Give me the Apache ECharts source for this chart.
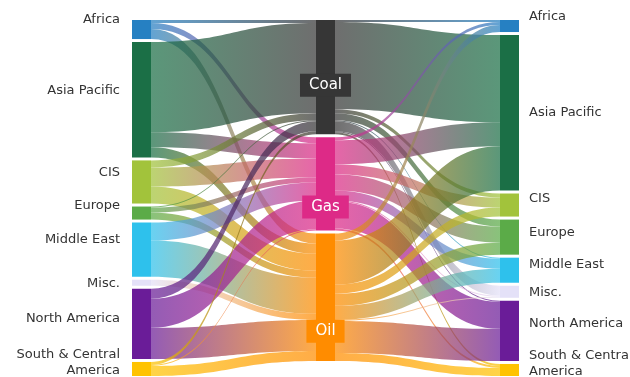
<!DOCTYPE html>
<html>
<head>
<meta charset="utf-8">
<script src="https://cdn.jsdelivr.net/npm/echarts@6/dist/echarts.min.js"></script>
<style>
html,body{margin:0;padding:0;background:#fff;}
#chart{width:630px;height:377px;}
</style>
</head>
<body>
<div id="chart"></div>
<script>
// Regions (exporters on the left, importers on the right)
const regions = ['Africa', 'Asia Pacific', 'CIS', 'Europe', 'Middle East', 'Misc.', 'North America', 'South & Central America'];
const fuels = ['Coal', 'Gas', 'Oil'];

// Exports: region -> fuel
const exportsCoal = [3, 90, 7, 1, 0, 0, 10, 3];
const exportsGas  = [6, 15, 19, 5, 18, 0, 29, 1];
const exportsOil  = [10, 10, 17, 7, 36, 6, 31, 10];

// Imports: fuel -> region
const importsCoal = [2, 87, 4, 7, 1, 10, 1, 2];
const importsGas  = [3, 24, 10, 16, 10, 1, 27, 2];
const importsOil  = [7, 44, 9, 12, 14, 1, 32, 8];

// Styling (kept separate from data)
const regionColors = ['#2680c2', '#1b6f46', '#a2c33b', '#5bab48', '#2ec1ec', '#e4e1f8', '#6a1c98', '#ffc300'];
const fuelColors = { Coal: '#363636', Gas: '#dd2a87', Oil: '#ff8c00' };
const fuelLabelShift = { Coal: 8, Gas: 23, Oil: 34 };
const leftLabelShift = [-10, -9, -9, -7, -10, 1, -5, -6];
const rightLabelShift = [-9, 0, -6, -4, -6, 1, -7, -6];

const FONT = 'DejaVu Sans';
const display = n => n === 'South & Central America' ? 'South & Central\nAmerica' : n;

const nodes = [];
regions.forEach((r, i) => nodes.push({
  name: 'L:' + r,
  itemStyle: { color: regionColors[i] },
  label: { position: 'left', distance: 12, offset: [0, leftLabelShift[i]], align: 'right' }
}));
fuels.forEach(f => nodes.push({
  name: 'M:' + f,
  itemStyle: { color: fuelColors[f] },
  label: {
    position: 'inside', color: '#fff', fontSize: 15, backgroundColor: fuelColors[f],
    padding: [4, 9, 3, 9], offset: [0, fuelLabelShift[f]], align: 'center'
  }
}));
regions.forEach((r, i) => nodes.push({
  name: 'R:' + r,
  itemStyle: { color: regionColors[i] },
  label: { position: 'right', distance: 10, offset: [0, rightLabelShift[i]], align: 'left' }
}));

const links = [];
const exp = { Coal: exportsCoal, Gas: exportsGas, Oil: exportsOil };
const imp = { Coal: importsCoal, Gas: importsGas, Oil: importsOil };
regions.forEach((r, i) => fuels.forEach(f => {
  if (exp[f][i] > 0) links.push({ source: 'L:' + r, target: 'M:' + f, value: exp[f][i] });
}));
fuels.forEach(f => regions.forEach((r, i) => {
  if (imp[f][i] > 0) links.push({ source: 'M:' + f, target: 'R:' + r, value: imp[f][i] });
}));

const chart = echarts.init(document.getElementById('chart'), null, { renderer: 'canvas' });
chart.setOption({
  backgroundColor: '#fff',
  animation: false,
  series: [{
    type: 'sankey',
    left: 132, right: 111, top: 20, bottom: 1,
    nodeWidth: 19,
    nodeGap: 3,
    layoutIterations: 0,
    draggable: false,
    emphasis: { disabled: true },
    data: nodes,
    links: links,
    label: {
      fontFamily: FONT, fontSize: 13, color: '#333', lineHeight: 16,
      formatter: p => display(p.name.slice(2))
    },
    itemStyle: { borderWidth: 0 },
    lineStyle: { color: 'gradient', opacity: 0.72, curveness: 0.5 }
  }]
});
</script>
</body>
</html>
